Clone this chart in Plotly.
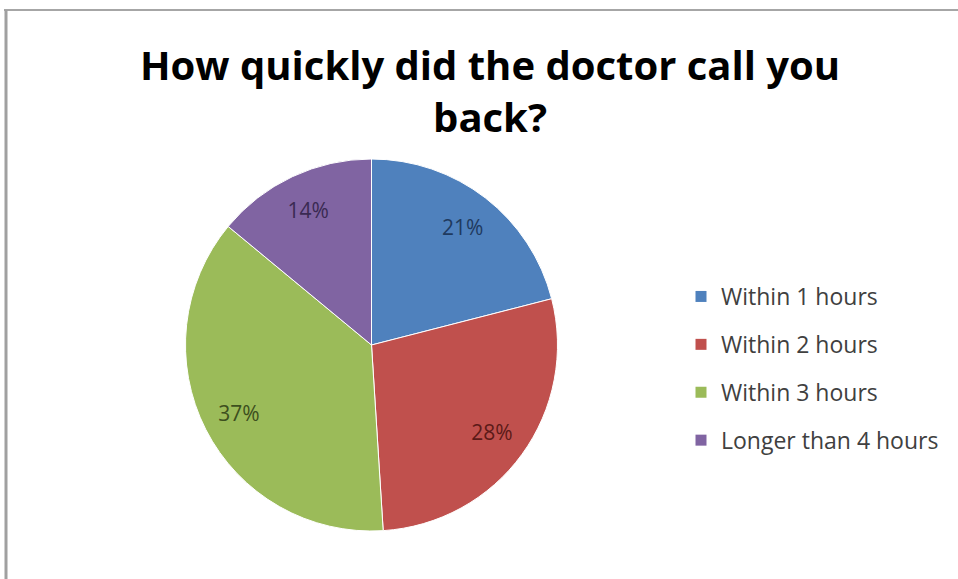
import plotly.graph_objects as go

categories = ["Within 1 hours", "Within 2 hours", "Within 3 hours", "Longer than 4 hours"]
values = [21, 28, 37, 14]
slice_colors = ["#4F81BD", "#C0504D", "#9BBB59", "#8064A2"]
label_colors = ["#1F3A5F", "#5C1A18", "#3D4F1E", "#3A2A52"]
title_text = "How quickly did the doctor call you<br>back?"

W, H = 958, 579
cx, cy, r = 371.5, 345, 186
pie_domain = dict(x=[(cx - r) / W, (cx + r) / W], y=[1 - (cy + r) / H, 1 - (cy - r) / H])

fig = go.Figure()
# main pie (filled slices)
fig.add_trace(go.Pie(
    labels=categories,
    values=values,
    sort=False,
    direction="clockwise",
    rotation=0,
    marker=dict(colors=slice_colors, line=dict(color="white", width=1)),
    textinfo="none",
    domain=pie_domain,
    showlegend=False,
    hoverinfo="label+percent",
))
# transparent ring carrying the percentage labels (places them near the rim)
fig.add_trace(go.Pie(
    labels=categories,
    values=values,
    sort=False,
    direction="clockwise",
    rotation=0,
    hole=0.6,
    marker=dict(colors=["rgba(0,0,0,0)"] * len(values), line=dict(width=0)),
    texttemplate="%{percent:.0%}",
    textposition="inside",
    insidetextorientation="horizontal",
    textfont=dict(family="Open Sans", size=21, color=label_colors),
    domain=pie_domain,
    showlegend=False,
    hoverinfo="skip",
))

for i, (name, col) in enumerate(zip(categories, slice_colors)):
    fig.add_trace(go.Scatter(
        x=[None], y=[None], mode="markers", name=name,
        marker=dict(symbol="square", size=11, color=col),
        legendgroup=f"g{i}", showlegend=True,
    ))

fig.update_layout(
    width=W, height=H,
    margin=dict(l=0, r=0, t=0, b=0),
    paper_bgcolor="white", plot_bgcolor="white",
    xaxis=dict(visible=False), yaxis=dict(visible=False),
    legend=dict(
        x=681 / W, y=1 - 275 / H, xanchor="left", yanchor="top",
        font=dict(family="Open Sans", size=23, color="#404040"),
        tracegroupgap=15, itemwidth=30, bgcolor="rgba(0,0,0,0)",
    ),
    annotations=[dict(
        text=title_text, x=490 / W, y=1 - 90 / H, xref="paper", yref="paper",
        xanchor="center", yanchor="middle", showarrow=False,
        font=dict(family="Open Sans", size=40, color="#000000", weight="bold"),
    )],
    shapes=[
        dict(type="line", xref="paper", yref="paper", x0=4 / W, x1=1, y0=1 - 10 / H, y1=1 - 10 / H,
             line=dict(color="#A6A6A6", width=2)),
        dict(type="line", xref="paper", yref="paper", x0=6 / W, x1=6 / W, y0=0, y1=1 - 10 / H,
             line=dict(color="#A0A0A0", width=3)),
    ],
)

fig.write_html(
    "out.html",
    config={"displayModeBar": False},
    post_script="document.body.style.margin='0';document.body.style.overflow='hidden';",
)
